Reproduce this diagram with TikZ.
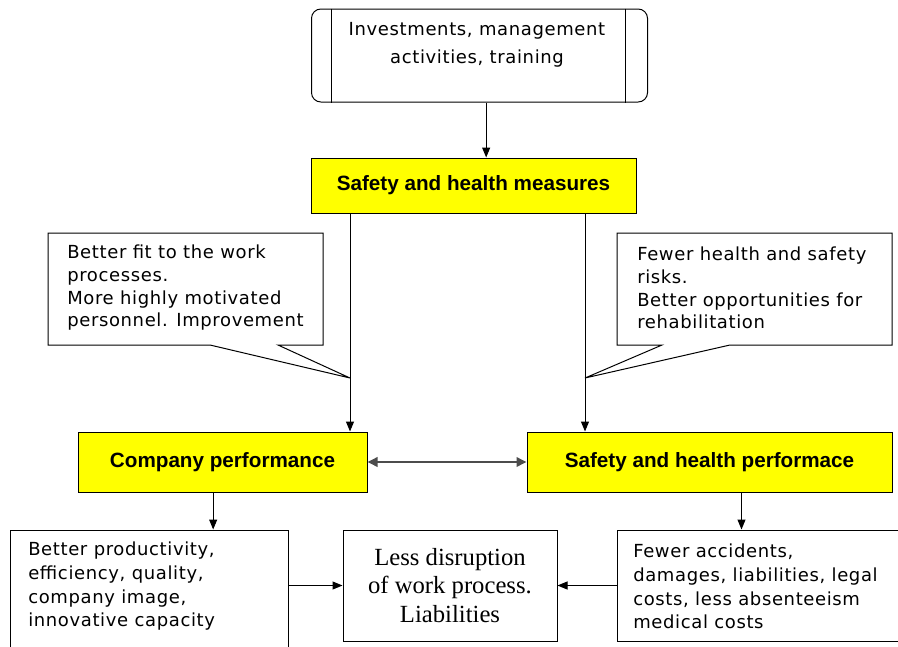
\documentclass[tikz,border=0pt]{standalone}
\usepackage{fontspec}
\setmainfont{DejaVu Sans}[LetterSpace=3.5]
\newfontfamily\headfont{Liberation Sans}
\newfontfamily\serfont{Liberation Serif}
\usetikzlibrary{arrows.meta,positioning,calc}
\definecolor{boxyellow}{RGB}{255,255,0}

\tikzset{
  plaintxt/.style={font=\fontsize{13.5}{17}\selectfont, align=left, inner sep=0pt},
  yellowbox/.style={draw, line width=0.75pt, fill=boxyellow, inner sep=0pt,
    font=\headfont\bfseries\fontsize{15.5}{18}\selectfont},
  textbox/.style={draw, line width=0.75pt, inner sep=0pt},
  arr/.style={line width=0.75pt, -{Triangle[length=7.5pt,width=6pt]}},
}

\begin{document}
\begin{tikzpicture}[x=0.75pt,y=-0.75pt]
\useasboundingbox (0,0) rectangle (898,646);

% TOP
  \node[textbox, rounded corners=7pt, minimum width=252pt, minimum height=69.75pt] (invest) at (479.5,55.5) {};
  \draw[line width=0.75pt] ([xshift=15pt]invest.north west) -- ([xshift=15pt]invest.south west);
  \draw[line width=0.75pt] ([xshift=-17pt]invest.north east) -- ([xshift=-17pt]invest.south east);
  \node[plaintxt, align=center, font=\fontsize{13.5}{21}\selectfont] (investtxt) at (477,45) {Investments, management\\activities, training};

  \node[yellowbox, minimum width=243.75pt, minimum height=41.25pt] (measures) at (473.5,185.5) {Safety and health measures};
  \draw[arr] ([xshift=5pt]invest.south) -- ([xshift=5pt]invest.south |- measures.north);

% CALLOUTS
  \coordinate (tipL) at (350,378);
  \coordinate (tipR) at (585,378);
  \draw[line width=0.75pt] (48,233) -- (323,233) -- (323,345) -- (278,345) -- (tipL) -- (210,345) -- (48,345) -- cycle;
  \draw[line width=0.75pt] (617,233) -- (892,233) -- (892,345) -- (730,345) -- (tipR) -- (662,345) -- (617,345) -- cycle;
  \node[plaintxt, anchor=west] (calltxtL) at (67,288) {Better fit to the work\\processes.\\More highly motivated\\personnel. Improvement};
  \node[plaintxt, anchor=west] (calltxtR) at (637,288) {Fewer health and safety\\risks.\\Better opportunities for\\rehabilitation};

% PERFORMANCE
  \node[yellowbox, minimum width=216.75pt, minimum height=45pt] (compperf) at (222.5,462) {Company performance};
  \node[yellowbox, minimum width=273.75pt, minimum height=45pt] (shperf) at (709.5,462) {Safety and health performace};
  \draw[arr] (measures.south -| tipL) -- (compperf.north -| tipL);
  \draw[arr] (measures.south -| tipR) -- (shperf.north -| tipR);
  \draw[line width=1.8pt, black!70, {Triangle[length=7.5pt,width=7pt]}-{Triangle[length=7.5pt,width=7pt]}] (compperf.east) -- (shperf.west);

% RESULTS
  \node[textbox, minimum width=208.5pt, minimum height=90pt] (gains) at (149,590) {};
  \node[textbox, minimum width=160.5pt, minimum height=83.25pt, align=center,
        font=\serfont\fontsize{18.5}{21.4}\selectfont] (less) at (450,585.5) {Less disruption\\of work process.\\Liabilities};
  \node[textbox, minimum width=216pt, minimum height=83.25pt] (losses) at (761,585.5) {};
  \node[plaintxt, anchor=west, font=\fontsize{13.5}{17.75}\selectfont] (gainstxt) at (28,586.5) {Better productivity,\\efficiency, quality,\\company image,\\innovative capacity};
  \node[plaintxt, anchor=west, font=\fontsize{13.5}{17.75}\selectfont] (lossestxt) at (633,586.5) {Fewer accidents,\\damages, liabilities, legal\\costs, less absenteeism\\medical costs};

  \draw[arr] ([xshift=-7pt]compperf.south) -- ([xshift=-7pt]compperf.south |- gains.north);
  \draw[arr] ([xshift=24pt]shperf.south) -- ([xshift=24pt]shperf.south |- losses.north);
  \draw[arr] (gains.east |- less.west) -- (less.west);
  \draw[arr] (losses.west) -- (less.east);

\end{tikzpicture}
\end{document}
